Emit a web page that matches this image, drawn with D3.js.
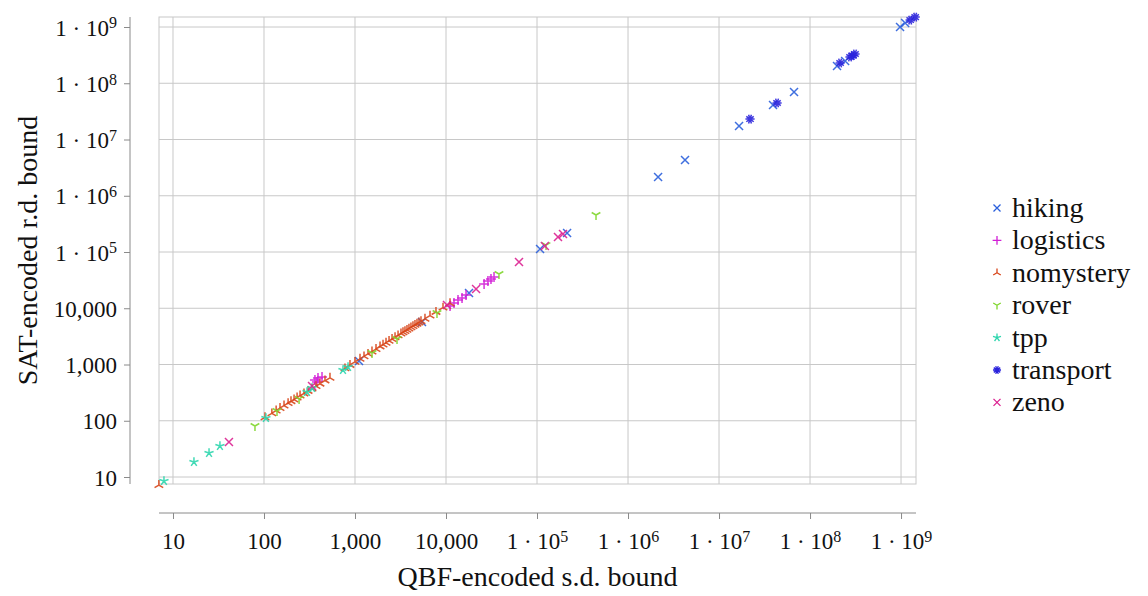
<!DOCTYPE html>
<html>
<head>
  <meta charset="utf-8">
  <title>QBF vs SAT bounds</title>
  <script src="https://d3js.org/d3.v7.min.js"></script>
  <style>
    body {
      margin: 0;
      background: #fff;
    }
    text {
      font-family: "Liberation Serif", serif;
      fill: #111;
    }
  </style>
</head>
<body>
  <div id="chart"></div>
  <script>
    // series names in legend order
    var seriesNames = ["hiking", "logistics", "nomystery", "rover", "tpp", "transport", "zeno"];

    // [QBF-encoded s.d. bound, SAT-encoded r.d. bound]
    var hiking = [[1107, 1153], [5445, 5700], [17900, 18700], [108000, 113000], [214000, 218000],
      [2.14e6, 2.15e6], [4.23e6, 4.32e6], [1.66e7, 1.74e7], [3.92e7, 4.1e7], [6.67e7, 6.99e7],
      [1.98e8, 2.03e8], [2.43e8, 2.49e8], [9.75e8, 1.0e9], [1.11e9, 1.18e9]];
    var logistics = [[363, 530], [392, 575], [434, 600], [382, 489], [11070, 10960], [12240, 12400],
      [13550, 14000], [15000, 15200], [16600, 17200], [26200, 27000], [28900, 30500],
      [31200, 33100], [33700, 36000]];
    var nomystery = [[7.0, 7.2], [102.6, 115], [122, 135], [136, 152], [150, 168], [166, 186],
      [184, 205], [198, 222], [214, 238], [231, 258], [249, 280], [275, 305], [305, 338],
      [337, 372], [373, 412], [412, 455], [468, 520], [531, 580], [776, 850], [881, 980],
      [1000, 1110], [1135, 1260], [1256, 1390], [1390, 1540], [1537, 1700], [1702, 1880],
      [1884, 2090], [2032, 2250], [2192, 2430], [2366, 2620], [2553, 2830], [2754, 3050],
      [2972, 3290], [3200, 3550], [3367, 3730], [3540, 3920], [3725, 4120], [3917, 4330],
      [4120, 4560], [4335, 4800], [4560, 5050], [4800, 5300], [5048, 5580], [5310, 5870],
      [5875, 6500], [6670, 7380], [7760, 8580], [9270, 10250], [11070, 12240]];
    var rover = [[79.6, 80.7], [139, 149], [243, 244], [1538, 1600], [2895, 2840], [7960, 8240],
      [38200, 40600], [125600, 133000], [445000, 455000]];
    var tpp = [[7.96, 8.5], [17, 18.5], [24.9, 26.7], [32.8, 35.6], [105, 112], [297, 324],
      [337, 382], [738, 798], [838, 903]];
    var transport = [[2.19e7, 2.31e7], [4.34e7, 4.46e7], [2.14e8, 2.29e8], [2.75e8, 2.93e8],
      [2.95e8, 3.1e8], [3.12e8, 3.31e8], [1.26e9, 1.33e9], [1.43e9, 1.5e9]];
    var zeno = [[41.2, 41.9], [337, 415], [10250, 11400], [21400, 22000], [63400, 66400],
      [122000, 128000], [170000, 185000], [193000, 209000]];

    var tickValues = [10, 100, 1000, 10000, 1e5, 1e6, 1e7, 1e8, 1e9];

    var seriesData = {
      hiking: hiking, logistics: logistics, nomystery: nomystery, rover: rover,
      tpp: tpp, transport: transport, zeno: zeno
    };

    var colors = {
      hiking: "#2a5fdc",
      logistics: "#d21fd6",
      nomystery: "#d8461a",
      rover: "#7fd62c",
      tpp: "#2fd6ae",
      transport: "#2a22dc",
      zeno: "#dc2090"
    };

    // marker path builders (stroked, pgfplots-like)
    function spokes(r, angles) {
      return angles.map(function(a) {
        var t = a * Math.PI / 180;
        return "M0,0L" + (r * Math.cos(t)).toFixed(2) + "," + (-r * Math.sin(t)).toFixed(2);
      }).join("");
    }
    function cross(r) {
      return "M" + -r + "," + -r + "L" + r + "," + r + "M" + -r + "," + r + "L" + r + "," + -r;
    }
    var markers = {
      hiking: cross,
      logistics: function(r) { r = r * 1.25; return "M" + -r + ",0L" + r + ",0M0," + -r + "L0," + r; },
      nomystery: function(r) { return spokes(r * 1.25, [90, 210, 330]); },
      rover: function(r) { return spokes(r * 1.25, [270, 30, 150]); },
      tpp: function(r) { return spokes(r * 1.2, [90, 162, 234, 306, 18]); },
      transport: function(r) { return spokes(r * 1.15, [0, 36, 72, 108, 144, 180, 216, 252, 288, 324]); },
      zeno: cross
    };

    var svg = d3.select("#chart")
      .append("svg")
      .attr("width", 1148)
      .attr("height", 596);

    // plot box
    var boxL = 159, boxR = 916, boxT = 17, boxB = 484;

    var x = d3.scaleLog()
      .domain([7.02, 1.46e9])
      .range([boxL, boxR]);

    var y = d3.scaleLog()
      .domain([7.51, 1.506e9])
      .range([boxB, boxT]);

    // grid
    var grid = svg.append("g").attr("stroke", "#c8c8c8").attr("stroke-width", 1);
    tickValues.forEach(function(v) {
      grid.append("line")
        .attr("x1", x(v)).attr("x2", x(v))
        .attr("y1", boxT).attr("y2", boxB);
      grid.append("line")
        .attr("x1", boxL).attr("x2", boxR)
        .attr("y1", y(v)).attr("y2", y(v));
    });
    grid.append("rect")
      .attr("x", boxL).attr("y", boxT)
      .attr("width", boxR - boxL).attr("height", boxB - boxT)
      .attr("fill", "none");

    // tick label with 1 · 10^n for the big ones
    function tickLabel(sel, v) {
      var e = Math.round(Math.log10(v));
      if (e < 5) {
        sel.text(d3.format(",")(v));
      } else {
        sel.append("tspan").text("1 \u00b7 10");
        sel.append("tspan").attr("dy", "-0.45em").style("font-size", "16px").text(e);
      }
    }

    // x axis, detached below the box
    var xAxis = svg.append("g")
      .attr("transform", "translate(0,513)")
      .call(d3.axisBottom(x).tickValues(tickValues).tickSize(6).tickFormat(function() { return ""; }));
    xAxis.select(".domain").attr("d", "M" + boxL + ",0H" + boxR).attr("stroke", "#8a8a8a");
    xAxis.selectAll(".tick line").attr("stroke", "#8a8a8a");
    xAxis.selectAll(".tick text").remove();
    xAxis.selectAll(".tick").append("text")
      .attr("y", 36)
      .attr("text-anchor", "middle")
      .style("font-size", "23px")
      .each(function(d) { tickLabel(d3.select(this), d); });

    // y axis, detached left of the box
    var yAxis = svg.append("g")
      .attr("transform", "translate(130,0)")
      .call(d3.axisLeft(y).tickValues(tickValues).tickSize(6).tickFormat(function() { return ""; }));
    yAxis.select(".domain").attr("d", "M0," + boxT + "V" + boxB).attr("stroke", "#8a8a8a");
    yAxis.selectAll(".tick line").attr("stroke", "#8a8a8a");
    yAxis.selectAll(".tick text").remove();
    yAxis.selectAll(".tick").append("text")
      .attr("x", -13)
      .attr("y", 8)
      .attr("text-anchor", "end")
      .style("font-size", "23px")
      .each(function(d) { tickLabel(d3.select(this), d); });

    // axis titles
    svg.append("text")
      .attr("x", (boxL + boxR) / 2)
      .attr("y", 586)
      .attr("text-anchor", "middle")
      .style("font-size", "28px")
      .text("QBF-encoded s.d. bound");

    svg.append("text")
      .attr("transform", "rotate(-90)")
      .attr("x", -(boxT + boxB) / 2)
      .attr("y", 37)
      .attr("text-anchor", "middle")
      .style("font-size", "28px")
      .text("SAT-encoded r.d. bound");

    // points
    seriesNames.forEach(function(name) {
      svg.append("g")
        .selectAll("path")
        .data(seriesData[name])
        .enter()
        .append("path")
        .attr("transform", function(d) { return "translate(" + x(d[0]) + "," + y(d[1]) + ")"; })
        .attr("d", markers[name](4))
        .attr("fill", "none")
        .attr("stroke", colors[name])
        .attr("stroke-width", 1.5)
        .attr("stroke-opacity", 0.9);
    });

    // legend
    var legend = svg.append("g").attr("transform", "translate(997,208)");
    seriesNames.forEach(function(name, i) {
      var row = legend.append("g").attr("transform", "translate(0," + (i * 32.4) + ")");
      row.append("path")
        .attr("d", markers[name](3.5))
        .attr("fill", "none")
        .attr("stroke", colors[name])
        .attr("stroke-width", 1.3);
      row.append("text")
        .attr("x", 15)
        .attr("y", 9)
        .style("font-size", "28px")
        .text(name);
    });
  </script>
</body>
</html>
